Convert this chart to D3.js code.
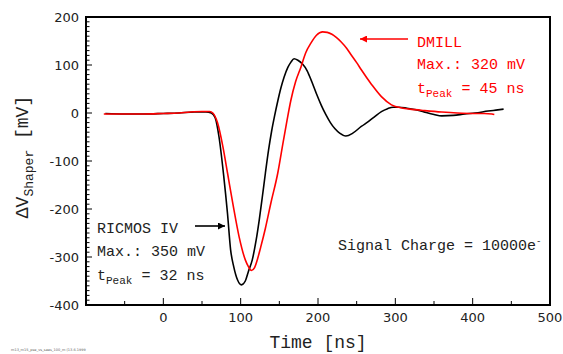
<!DOCTYPE html>
<html><head><meta charset="utf-8">
<script src="https://cdn.jsdelivr.net/npm/d3@7"></script>
<style>body{margin:0;background:#fff}svg{display:block}</style>
</head><body>
<svg id="c" width="563" height="354"></svg>
<script>
// Data
const ricmosTime = [-75,-50,-25,0,20,40,55,62,67,72,78,83,87,91,96,101,106,110,115,120,124,128,132,136,140,144,148,152,156,161,165,169,174,180,186,192,198,204,210,216,222,228,236,245,256,265,273,282,290,297,305,315,329,340,350,360,375,390,403,420,430,440];
const ricmosValue = [-1,-2,-2,-1,0,2,2,0,-10,-50,-130,-210,-285,-320,-348,-358,-350,-330,-306,-265,-223,-175,-125,-78,-38,-5,25,52,74,95,106,113,110,102,88,65,40,17,-3,-20,-33,-42,-48,-42,-28,-18,-8,3,9,12,12,10,6,1,-3,-6,-5,-2,0,4,6,8];
const dmillTime = [-77,-50,-25,0,20,35,50,60,64,70,77,83,90,98,106,110,114,118,122,126,132,139,148,155,160,165,171,178,184,191,198,206,212,218,224,230,237,243,250,256,269,282,295,310,325,338,360,380,400,415,425,428];
const dmillValue = [-2,-2,-2,-1,0,2,3,3,0,-20,-70,-125,-190,-258,-306,-320,-328,-322,-303,-279,-240,-188,-125,-60,-15,27,65,96,125,146,162,169,168,164,157,148,135,121,105,90,60,34,17,10,7,5,2,0,-1,-1,-2,-3];
const xTicks = [0,100,200,300,400,500];
const xMinorTicks = [-50,50,150,250,350,450];
const yTicks = [200,100,0,-100,-200,-300,-400];

const svg = d3.select("#c");
const L=86, R=550, T=17, B=305;
const x = d3.scaleLinear().domain([-100,500]).range([L,R]);
const y = d3.scaleLinear().domain([-400,200]).range([B,T]);

// minor y ticks
const yMinor = d3.range(-400,201,10);
svg.append("g").selectAll("line").data(yMinor).join("line")
  .attr("x1",L).attr("x2",d=> d%100===0 ? L+6 : L+3.5)
  .attr("y1",d=>y(d)).attr("y2",d=>y(d))
  .attr("stroke","#000").attr("stroke-width",1);
// x ticks
svg.append("g").selectAll("line").data(xTicks.concat(xMinorTicks)).join("line")
  .attr("x1",d=>x(d)).attr("x2",d=>x(d))
  .attr("y1",B).attr("y2",d=> xTicks.includes(d) ? B-7 : B-4)
  .attr("stroke","#000").attr("stroke-width",1);

// frame
svg.append("rect").attr("x",L).attr("y",T).attr("width",R-L).attr("height",B-T)
  .attr("fill","none").attr("stroke","#000").attr("stroke-width",2);

// tick labels
svg.append("g").selectAll("text").data(yTicks).join("text")
  .attr("x",L-7).attr("y",d=>y(d)).attr("dy","0.36em")
  .attr("text-anchor","end").attr("font-family","DejaVu Sans").attr("font-size",13)
  .attr("fill","#222").text(d=>d);
svg.append("g").selectAll("text").data(xTicks).join("text")
  .attr("x",d=>x(d)).attr("y",322)
  .attr("text-anchor","middle").attr("font-family","DejaVu Sans").attr("font-size",13)
  .attr("fill","#222").text(d=>d);

// curves
const line = d3.line().curve(d3.curveMonotoneX);
const ricmos = ricmosTime.map((t,i)=>[x(t),y(ricmosValue[i])]);
const dmill = dmillTime.map((t,i)=>[x(t),y(dmillValue[i])]);
svg.append("path").attr("d",line(ricmos)).attr("fill","none").attr("stroke","#000").attr("stroke-width",1.6);
svg.append("path").attr("d",line(dmill)).attr("fill","none").attr("stroke","#ff0000").attr("stroke-width",1.6);

const mono = "Liberation Mono";
// axis titles
svg.append("text").attr("x",318).attr("y",348).attr("text-anchor","middle")
  .attr("font-family",mono).attr("font-size",18).attr("fill","#222").text("Time [ns]");
const yl = svg.append("text").attr("transform","translate(28,157) rotate(-90)")
  .attr("text-anchor","middle").attr("font-family",mono).attr("font-size",18).attr("fill","#222");
yl.append("tspan").text("ΔV");
yl.append("tspan").attr("font-size",13).attr("dy",5).text("Shaper");
yl.append("tspan").attr("dy",-5).text(" [mV]");

// annotations
const red="#ff0000";
function ann(xx, color, lines){
  lines.forEach(l=>{
    const t=svg.append("text").attr("x",xx).attr("y",l.y).attr("font-family",mono)
      .attr("font-size",15).attr("fill",color);
    l.parts.forEach(p=>{
      const s=t.append("tspan").text(p.t);
      if(p.sub){s.attr("font-size",11).attr("dy",4);}
      if(p.back){s.attr("dy",-4);}
    });
  });
}
ann(417,red,[
  {y:47,parts:[{t:"DMILL"}]},
  {y:69,parts:[{t:"Max.: 320 mV"}]},
  {y:93,parts:[{t:"t"},{t:"Peak",sub:true},{t:" = 45 ns",back:true}]}
]);
ann(97,"#222",[
  {y:233,parts:[{t:"RICMOS IV"}]},
  {y:256,parts:[{t:"Max.: 350 mV"}]},
  {y:280,parts:[{t:"t"},{t:"Peak",sub:true},{t:" = 32 ns",back:true}]}
]);
const sc = svg.append("text").attr("x",338).attr("y",250).attr("font-family",mono)
  .attr("font-size",15).attr("fill","#222");
sc.append("tspan").text("Signal Charge = 10000e");
sc.append("tspan").attr("font-size",9).attr("dy",-6).text("-");

// arrows
const defs = svg.append("defs");
[["ar",red],["ab","#000"]].forEach(([id,c])=>{
  defs.append("marker").attr("id",id).attr("viewBox","0 0 10 10").attr("refX",10).attr("refY",5)
    .attr("markerWidth",10).attr("markerHeight",7).attr("markerUnits","userSpaceOnUse").attr("orient","auto")
    .append("path").attr("d","M0,0L10,5L0,10z").attr("fill",c);
});
svg.append("line").attr("x1",408).attr("y1",39).attr("x2",360).attr("y2",39)
  .attr("stroke",red).attr("stroke-width",1.6).attr("marker-end","url(#ar)");
svg.append("line").attr("x1",195).attr("y1",226).attr("x2",225).attr("y2",226)
  .attr("stroke","#000").attr("stroke-width",1.6).attr("marker-end","url(#ab)");

// tiny file stamp
svg.append("text").attr("x",11).attr("y",351).attr("font-family","DejaVu Sans").attr("font-size",3.5)
  .attr("fill","#666").text("m13_m15_pse_vs_saas_100_m (13.6.1999");
</script>
</body></html>
